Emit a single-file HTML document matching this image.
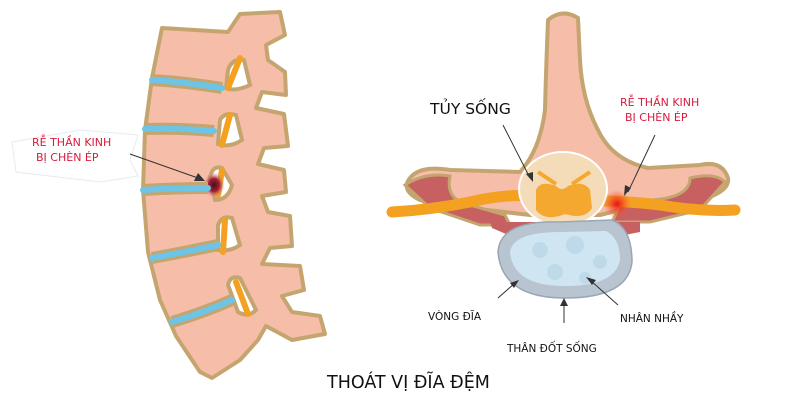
<!DOCTYPE html>
<html><head><meta charset="utf-8"><style>
html,body{margin:0;padding:0;background:#fff;}
svg{display:block;font-family:"DejaVu Sans","Liberation Sans",sans-serif;}
</style></head><body>
<svg width="800" height="400" viewBox="0 0 800 400" xmlns="http://www.w3.org/2000/svg">
<defs>
<radialGradient id="hot" cx="0.5" cy="0.5" r="0.5">
<stop offset="0" stop-color="#e8101a" stop-opacity="1"/>
<stop offset="0.5" stop-color="#f04020" stop-opacity="0.6"/>
<stop offset="1" stop-color="#f06040" stop-opacity="0"/>
</radialGradient>
<radialGradient id="bruise" cx="0.5" cy="0.5" r="0.5">
<stop offset="0" stop-color="#4a0c1c"/>
<stop offset="0.5" stop-color="#a02030"/>
<stop offset="1" stop-color="#f0a0a0" stop-opacity="0"/>
</radialGradient>
</defs>
<path d="M162 28 L228 32 L240 14 L280 12 L285 35 L266 45 L268 60 L285 72 L286 95 L262 92 L256 108 L284 114 L288 146 L264 148 L258 164 L284 170 L286 192 L262 196 L268 212 L290 216 L292 246 L270 248 L262 264 L300 266 L304 290 L282 296 L292 312 L320 316 L325 334 L292 340 L266 326 L258 340 L240 360 L212 378 L200 372 L176 336 L160 300 L148 252 L143 190 L145 130 L152 78 Z" fill="#f6bda9" stroke="#c5a56f" stroke-width="4" stroke-linejoin="round"/>
<g fill="#fff" stroke="#c5a56f" stroke-width="4">
<path d="M228 70 Q232 58 244 60 L250 85 Q235 92 226 88 Z"/>
<path d="M220 120 Q224 112 236 115 L242 140 Q230 148 218 144 Z"/>
<path d="M210 178 Q212 165 222 168 L232 185 Q228 200 215 200 Z"/>
<path d="M218 225 Q222 215 232 218 L240 245 Q230 252 218 250 Z"/>
<path d="M228 285 Q230 275 240 278 L256 310 Q248 318 238 312 Z"/>
</g>
<g stroke="#f4a020" stroke-width="6" stroke-linecap="round" fill="none">
<path d="M240 58 L228 88"/><path d="M230 115 L222 145"/><path d="M222 170 L218 195"/>
<path d="M225 220 L223 252"/><path d="M236 282 L248 314"/>
</g>
<ellipse cx="214" cy="185" rx="11" ry="13" fill="url(#bruise)"/>
<g stroke="#c5a56f" stroke-width="12" fill="none">
<path d="M152 80 Q185 82 222 88"/>
<path d="M145 129 Q180 128 214 131"/>
<path d="M143 190 Q175 188 208 188"/>
<path d="M152 258 Q185 252 218 245"/>
<path d="M172 322 Q205 312 232 300"/>
</g>
<g stroke="#6cc4e6" stroke-width="6" stroke-linecap="round" fill="none">
<path d="M152 80 Q185 82 222 88"/>
<path d="M145 129 Q180 128 214 131"/>
<path d="M143 190 Q175 188 208 188"/>
<path d="M152 258 Q185 252 218 245"/>
<path d="M172 322 Q205 312 232 300"/>
</g>
<path d="M12 142 L80 130 L138 135 L130 160 L138 176 L100 182 L16 172 Z" fill="#fff" stroke="#e4ecf2" stroke-width="1"/>
<text x="32" y="146" font-size="11" fill="#d81b3c">RỄ THẦN KINH</text>
<text x="36" y="161" font-size="11" fill="#d81b3c">BỊ CHÈN ÉP</text>
<line x1="130" y1="154" x2="198" y2="178" stroke="#333" stroke-width="1"/>
<path d="M205 181 L194 181 L198 173 Z" fill="#333"/>

<path d="M548 20 Q562 8 578 18 L580 60 Q582 100 598 130 Q612 160 648 168 L700 165 Q722 160 728 178 Q730 192 700 200 L640 205 L600 215 L530 215 L470 208 L420 200 Q400 190 410 178 Q420 165 450 170 L520 172 Q540 150 545 110 Q546 70 548 20 Z" fill="#f6bda9" stroke="#c5a56f" stroke-width="4" stroke-linejoin="round"/>
<path d="M405 185 Q425 172 450 176 Q445 200 470 205 L505 215 L510 225 L480 225 L430 208 Z" fill="#c76060" stroke="#c5a56f" stroke-width="3"/>
<path d="M725 182 Q715 172 690 178 Q690 198 650 200 L620 205 L612 222 L650 222 L700 210 Z" fill="#c76060" stroke="#c5a56f" stroke-width="3"/>
<path d="M492 228 L520 240 L600 240 L640 232 L640 222 L490 222 Z" fill="#c76060"/>
<path d="M392 212 Q430 210 470 202 Q520 190 560 200 Q620 200 660 205 Q700 212 735 210" stroke="#f4a020" stroke-width="11" stroke-linecap="round" fill="none"/>
<ellipse cx="563" cy="189" rx="44" ry="37" fill="#f5dcb8" stroke="#fff" stroke-width="2"/>
<path d="M536 190 Q540 180 556 186 Q562 192 568 186 Q584 180 590 190 L592 208 Q585 220 565 214 Q545 222 536 210 Z" fill="#f4a830"/>
<path d="M538 172 L556 184 M590 172 L572 184" stroke="#f4a830" stroke-width="4"/>
<circle cx="617" cy="204" r="14" fill="url(#hot)"/>
<path d="M498 252 Q500 220 560 222 L612 220 Q632 228 632 262 Q628 298 565 298 Q502 298 498 252 Z" fill="#b8c4d0" stroke="#9aa6b4" stroke-width="1.5"/>
<path d="M510 252 Q513 232 560 232 L606 231 Q620 238 620 260 Q615 286 565 286 Q513 286 510 252 Z" fill="#cfe6f2"/>
<g fill="#b8d4e4" opacity="0.7"><circle cx="540" cy="250" r="8"/><circle cx="575" cy="245" r="9"/><circle cx="600" cy="262" r="7"/><circle cx="555" cy="272" r="8"/><circle cx="585" cy="278" r="6"/></g>
<text x="430" y="114" font-size="15.5" fill="#111">TỦY SỐNG</text>
<text x="620" y="106" font-size="11" fill="#d81b3c">RỄ THẦN KINH</text>
<text x="625" y="121" font-size="11" fill="#d81b3c">BỊ CHÈN ÉP</text>
<text x="428" y="320" font-size="10.5" fill="#111">VÒNG ĐĨA</text>
<text x="507" y="352" font-size="10.5" fill="#111">THÂN ĐỐT SỐNG</text>
<text x="620" y="322" font-size="10.5" fill="#111">NHÂN NHẦY</text>
<text x="327" y="388" font-size="17.5" fill="#111">THOÁT VỊ ĐĨA ĐỆM</text>
<g stroke="#333" stroke-width="1" fill="none">
<line x1="503" y1="125" x2="530" y2="178"/>
<line x1="655" y1="135" x2="628" y2="192"/>
<line x1="498" y1="298" x2="515" y2="283"/>
<line x1="564" y1="323" x2="564" y2="303"/>
<line x1="618" y1="305" x2="590" y2="280"/>
</g>
<g fill="#333">
<path d="M533 182 L526 174 L533 172 Z"/>
<path d="M624 196 L625 185 L631 188 Z"/>
<path d="M519 280 L510 283 L514 288 Z"/>
<path d="M564 298 L560 306 L568 306 Z"/>
<path d="M586 277 L596 280 L592 285 Z"/>
</g>
</svg>
</body></html>
